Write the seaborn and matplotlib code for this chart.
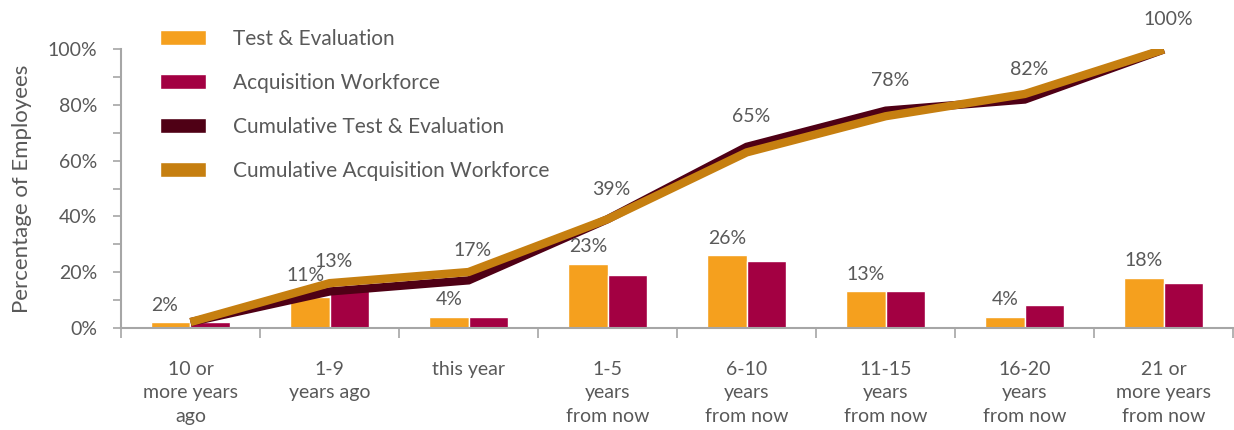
import numpy as np
import pandas as pd
import matplotlib
matplotlib.use("Agg")
import matplotlib.pyplot as plt
from matplotlib.patches import Patch
import seaborn as sns

# Data
categories = ["10 or\nmore years\nago", "1-9\nyears ago", "this year",
              "1-5\nyears\nfrom now", "6-10\nyears\nfrom now", "11-15\nyears\nfrom now",
              "16-20\nyears\nfrom now", "21 or\nmore years\nfrom now"]
test_eval = [2, 11, 4, 23, 26, 13, 4, 18]
acquisition = [2, 14, 4, 19, 24, 13, 8, 16]
cum_test_eval = [2, 13, 17, 39, 65, 78, 82, 100]
cum_acquisition = [2, 16, 20, 39, 63, 76, 84, 100]

C_TE = "#F5A01E"
C_ACQ = "#A30042"
C_CUM_TE = "#4F0015"
C_CUM_ACQ = "#C67F10"
TXT = "#595959"
AXC = "#A6A6A6"

sns.set_style("white")
plt.rcParams["font.family"] = ["Lato", "DejaVu Sans"]

fig = plt.figure(figsize=(12.34, 4.30), dpi=100)
ax = fig.add_axes([0.098, 0.238, 0.9015, 0.647])

pos = np.arange(len(categories))
bars = pd.DataFrame({
    "pos": np.concatenate([pos, pos]),
    "value": test_eval + acquisition,
    "series": ["Test & Evaluation"] * len(pos) + ["Acquisition Workforce"] * len(pos),
})
sns.barplot(data=bars, x="pos", y="value", hue="series",
            palette=[C_TE, C_ACQ], width=0.57, ax=ax, legend=False,
            saturation=1, native_scale=True)

lines = pd.DataFrame({
    "pos": np.concatenate([pos, pos]),
    "value": cum_test_eval + cum_acquisition,
    "series": ["Cumulative Test & Evaluation"] * len(pos)
              + ["Cumulative Acquisition Workforce"] * len(pos),
})
sns.lineplot(data=lines, x="pos", y="value", hue="series",
             palette=[C_CUM_TE, C_CUM_ACQ], linewidth=6, ax=ax, legend=False,
             solid_joinstyle="miter", solid_capstyle="butt")

# value labels on the Test & Evaluation bars
bar_w = 0.57 / 2
for i, v in enumerate(test_eval):
    dx = -6 if i == 0 else (-4 if i == 1 else 0)
    dy = 22 if i == 1 else 17
    ax.annotate(f"{v}%", (pos[i] - bar_w / 2, v), xytext=(dx, dy),
                textcoords="offset pixels", ha="center", va="center",
                fontsize=14, color=TXT)

# labels on the cumulative Test & Evaluation line
for i, v in enumerate(cum_test_eval):
    if i == 0:
        continue
    ax.annotate(f"{v}%", (pos[i], v), xytext=(4, 30),
                textcoords="offset pixels", ha="center", va="center",
                fontsize=14, color=TXT, annotation_clip=False)

ax.set_xlim(-0.5, len(categories) - 0.5)
ax.set_ylim(0, 100)
ax.set_yticks(np.arange(0, 101, 20))
ax.set_yticks(np.arange(0, 101, 10), minor=True)
ax.set_yticklabels([f"{t}%" for t in range(0, 101, 20)])
ax.set_xticks(pos)
ax.set_xticklabels(categories, linespacing=1.45)
ax.set_xticks(np.arange(-0.5, len(categories)), minor=True)

ax.tick_params(axis="y", which="both", direction="out", length=6, width=1.2,
               color=AXC, labelsize=14, labelcolor=TXT, pad=11, left=True)
ax.tick_params(axis="x", which="major", length=0, labelsize=14,
               labelcolor=TXT, pad=24)
ax.tick_params(axis="x", which="minor", direction="out", length=7, width=1.2,
               color=AXC, bottom=True)

for s in ["top", "right"]:
    ax.spines[s].set_visible(False)
for s in ["left", "bottom"]:
    ax.spines[s].set_color(AXC)
    ax.spines[s].set_linewidth(1.5)

ax.set_xlabel("")
ax.set_ylabel("Percentage of Employees", fontsize=16, color=TXT)
ax.yaxis.set_label_coords(-0.080, 0.5)

handles = [Patch(facecolor=C_TE, label="Test & Evaluation"),
           Patch(facecolor=C_ACQ, label="Acquisition Workforce"),
           Patch(facecolor=C_CUM_TE, label="Cumulative Test & Evaluation"),
           Patch(facecolor=C_CUM_ACQ, label="Cumulative Acquisition Workforce")]
leg = fig.legend(handles=handles, loc="upper left",
                 bbox_to_anchor=(160 / 1234, 1 - 29 / 430), frameon=False,
                 fontsize=15, handlelength=2.2, handleheight=0.75,
                 handletextpad=1.3, labelspacing=1.15, borderpad=0,
                 borderaxespad=0)
for t in leg.get_texts():
    t.set_color(TXT)

fig.savefig("out.png", dpi=100)
